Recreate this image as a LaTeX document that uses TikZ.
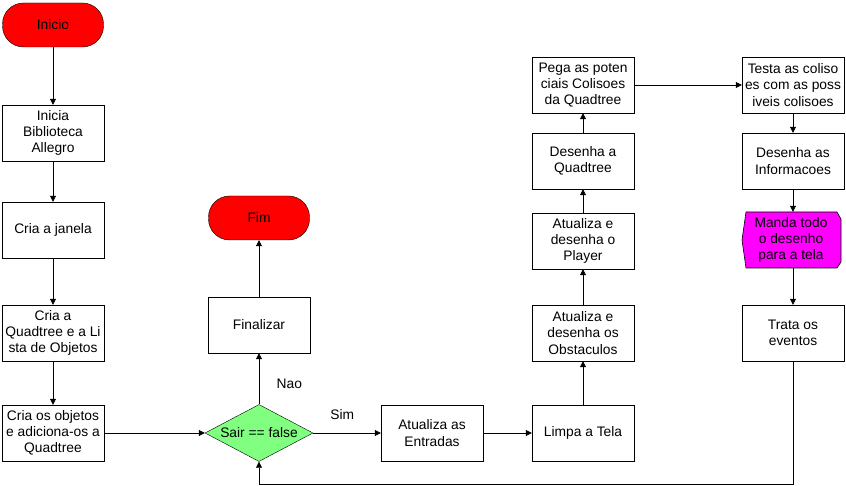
\documentclass[tikz,border=0pt]{standalone}
\usepackage{fontspec}
\setmainfont{Liberation Sans}
\usetikzlibrary{arrows.meta,shapes.geometric,positioning}
\definecolor{magentatela}{RGB}{255,0,255}
\definecolor{verdedecisao}{RGB}{128,255,128}
\definecolor{vermelho}{RGB}{255,0,0}

\begin{document}
\begin{tikzpicture}[x=1pt, y=-1pt,
  every node/.style={font=\fontsize{13.8}{16.2}\selectfont, align=center},
  passo/.style={draw=black, fill=white, minimum width=102pt, minimum height=56pt, inner sep=1pt},
  terminal/.style={draw=black, fill=vermelho, rounded corners=21pt, minimum width=101pt, minimum height=44pt},
  decisao/.style={diamond, draw=black, fill=verdedecisao, minimum width=108pt, minimum height=57pt, aspect=1.9, inner sep=0pt},
  seta/.style={-{Triangle[length=6pt,width=6pt]}, line width=0.6pt}]
\useasboundingbox (0,0) rectangle (846,486);
% coluna esquerda
\node[terminal] (inicio) at (53,25) {Inicio};
\node[passo] (allegro) at (53,133) {Inicia\\Biblioteca\\Allegro};
\node[passo] (janela) at (53,230) {Cria a janela};
\node[passo] (quadtree) at (53,333) {Cria a\\Quadtree e a Li\\sta de Objetos};
\node[passo] (objetos) at (53,433) {Cria os objetos\\e adiciona-os a\\Quadtree};
% laco principal
\node[decisao] (sair) at (259,433) {Sair == false};
\node[passo] (finalizar) at (259,325) {Finalizar};
\node[terminal] (fim) at (259,218) {Fim};
\node[passo] (entradas) at (432,433) {Atualiza as\\Entradas};
\node[passo] (limpa) at (583,433) {Limpa a Tela};
\node[passo] (obstaculos) at (583,333) {Atualiza e\\desenha os\\Obstaculos};
\node[passo] (player) at (583,241) {Atualiza e\\desenha o\\Player};
\node[passo] (desquad) at (583,161) {Desenha a\\Quadtree};
\node[passo] (pega) at (583,85) {Pega as poten\\ciais Colisoes\\da Quadtree};
% coluna direita
\node[passo] (testa) at (793,85) {Testa as coliso\\es com as poss\\iveis colisoes};
\node[passo] (info) at (793,161) {Desenha as\\Informacoes};
\fill[magentatela, draw=black, line width=0.6pt] (746,212) -- (837,212) -- (841,219) -- (841,262) -- (837,268) -- (746,268) -- (742,240) -- cycle;
\node[minimum width=99pt, minimum height=56pt] (manda) at (791,240) {Manda todo\\o desenho\\para a tela};
\node[passo] (eventos) at (793,333) {Trata os\\eventos};
\coordinate (volta1) at (793,484);
\coordinate (volta2) at (259,484);

\draw[seta] (inicio) -- (allegro);
\draw[seta] (allegro) -- (janela);
\draw[seta] (janela) -- (quadtree);
\draw[seta] (quadtree) -- (objetos);
\draw[seta] (objetos) -- (sair);
\draw[seta] (sair) -- node[pos=0.4, right=14pt] {Nao} (finalizar);
\draw[seta] (finalizar) -- (fim);
\draw[seta] (sair) -- node[pos=0.43, above=10pt] {Sim} (entradas);
\draw[seta] (entradas) -- (limpa);
\draw[seta] (limpa) -- (obstaculos);
\draw[seta] (obstaculos) -- (player);
\draw[seta] (player) -- (desquad);
\draw[seta] (desquad) -- (pega);
\draw[seta] (pega) -- (testa);
\draw[seta] (testa) -- (info);
\draw[seta] (info) -- (manda.north -| info);
\draw[seta] (manda.south -| info) -- (eventos);
\draw[seta] (eventos) -- (volta1) -- (volta2) -- (sair);
\end{tikzpicture}
\end{document}
